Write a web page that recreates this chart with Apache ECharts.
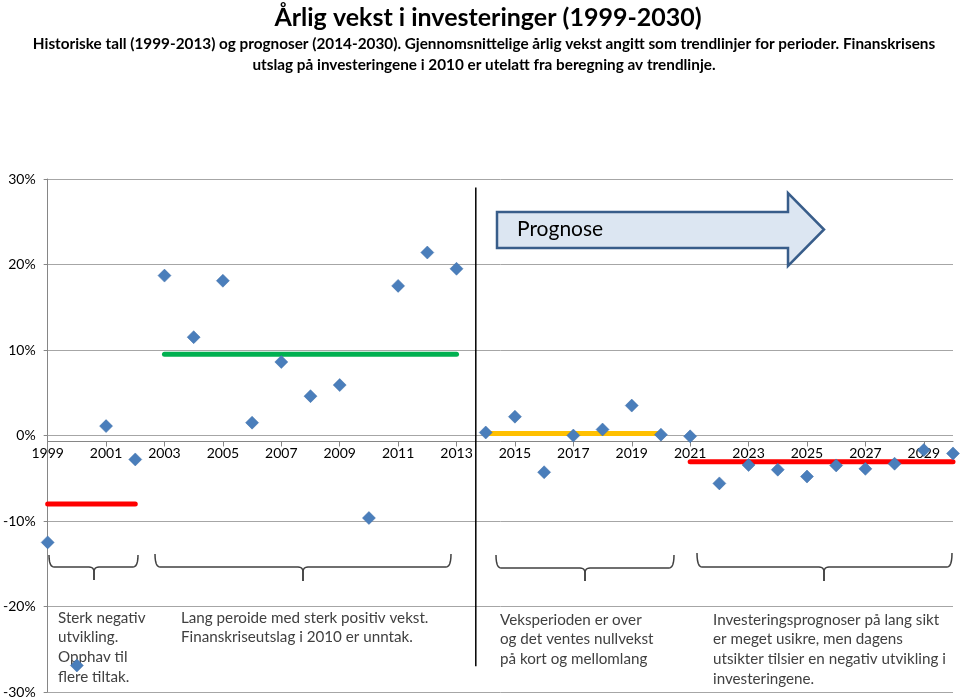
<!DOCTYPE html>
<html>
<head>
<meta charset="utf-8">
<script src="https://cdn.jsdelivr.net/npm/echarts@6/dist/echarts.min.js"></script>
<style>
html,body{margin:0;padding:0;background:#fff;}
#c{width:960px;height:699px;}
</style>
</head>
<body>
<div id="c"></div>
<script>
// ---- data ----
const years = [1999,2000,2001,2002,2003,2004,2005,2006,2007,2008,2009,2010,2011,2012,2013,
               2014,2015,2016,2017,2018,2019,2020,2021,2022,2023,2024,2025,2026,2027,2028,2029,2030];
const growth = [-12.5,-26.9,1.1,-2.8,18.7,11.5,18.1,1.5,8.6,4.6,5.9,-9.65,17.5,21.4,19.5,
                0.35,2.2,-4.3,0.0,0.7,3.5,0.1,-0.1,-5.6,-3.45,-4.0,-4.8,-3.5,-3.9,-3.3,-1.7,-2.1];
const tickYears = [1999,2001,2003,2005,2007,2009,2011,2013,2015,2017,2019,2021,2023,2025,2027,2029];
const trendStart = [1999, 2003, 2014, 2021];
const trendEnd   = [2002, 2013, 2020, 2030];
const trendValue = [-8.0, 9.5, 0.23, -3.07];
const trendColor = ['#ff0000','#00b050','#ffc000','#ff0000'];
const dividerYear = 2013.66;
const dividerRange = [29, -27];

const titleText = 'Årlig vekst i investeringer (1999-2030)';
const subLines = ['Historiske tall (1999-2013) og prognoser (2014-2030). Gjennomsnittelige årlig vekst angitt som trendlinjer for perioder. Finanskrisens',
                  'utslag på investeringene i 2010 er utelatt fra beregning av trendlinje.'];
const notes = [
  'Sterk negativ\nutvikling.\nOpphav til\nflere tiltak.',
  'Lang peroide med sterk positiv vekst.\nFinanskriseutslag i 2010 er unntak.',
  'Veksperioden er over\nog det ventes nullvekst\npå kort og mellomlang',
  'Investeringsprognoser på lang sikt\ner meget usikre, men dagens\nutsikter tilsier en negativ utvikling i\ninvesteringene.'
];

const FONT = 'Lato, "Open Sans", sans-serif';

const series = [];
for (let i = 0; i < trendStart.length; i++) {
  series.push({
    type: 'line', symbol: 'none', silent: true, z: 2,
    data: [[trendStart[i], trendValue[i]], [trendEnd[i], trendValue[i]]],
    lineStyle: { color: trendColor[i], width: 5, cap: 'round' }
  });
}
series.push({
  type: 'line', symbol: 'none', silent: true, z: 2,
  data: [[dividerYear, dividerRange[0]], [dividerYear, dividerRange[1]]],
  lineStyle: { color: '#000', width: 1.5 }
});
series.push({
  type: 'scatter', z: 5, symbol: 'diamond', symbolSize: 13,
  data: years.map((y, i) => [y, growth[i]]),
  itemStyle: { color: '#4a7ebb', borderColor: '#3f6fa8', borderWidth: 0.5, opacity: 1 }
});

function quad(p0, p1, p2, n) {
  const pts = [];
  for (let k = 0; k <= n; k++) {
    const t = k / n, a = (1 - t) * (1 - t), b = 2 * (1 - t) * t, c = t * t;
    pts.push([a * p0[0] + b * p1[0] + c * p2[0], a * p0[1] + b * p1[1] + c * p2[1]]);
  }
  return pts;
}
function bracePts(x1, x2, xm, yT, yH, yB) {
  const r = 5;
  const left = [].concat(
    quad([x1, yT], [x1, yH], [x1 + r, yH], 6),
    quad([xm - r, yH], [xm, yH], [xm, yH + r], 6),
    [[xm, yB]]
  );
  const right = [].concat(
    [[xm, yB]],
    quad([xm, yH + r], [xm, yH], [xm + r, yH], 6),
    quad([x2 - r, yH], [x2, yH], [x2, yT], 6)
  );
  return [left, right];
}
const braces = [
  [49, 138, 94, 555, 567, 580],
  [155, 451, 303, 554, 567, 581],
  [496, 674, 585, 555, 568, 581],
  [697, 952, 824, 553, 567, 581]
];
const notePos = [[58, 608], [181, 608], [500, 610], [713, 610]];

const graphic = [
  { type: 'text', x: 488, y: 18, style: { text: titleText, font: 'bold 25px ' + FONT, fill: '#000', align: 'center', verticalAlign: 'middle' }, z: 10 },
  { type: 'text', x: 484, y: 44, style: { text: subLines[0], font: 'bold 15.3px ' + FONT, fill: '#000', align: 'center', verticalAlign: 'middle' }, z: 10 },
  { type: 'text', x: 484, y: 65, style: { text: subLines[1], font: 'bold 15.3px ' + FONT, fill: '#000', align: 'center', verticalAlign: 'middle' }, z: 10 },
  { type: 'polygon', shape: { points: [[497,212],[788,212],[788,193],[824,229.5],[788,266],[788,248],[497,248]] },
    style: { fill: '#dce6f2', stroke: '#385d8a', lineWidth: 2.5 }, z: 3 },
  { type: 'text', x: 517, y: 229, style: { text: 'Prognose', font: '21px ' + FONT, fill: '#000', verticalAlign: 'middle' }, z: 4 }
];
braces.forEach(b => {
  bracePts.apply(null, b).forEach(pts => graphic.push({ type: 'polyline', shape: { points: pts },
    style: { stroke: '#404040', lineWidth: 1.5, fill: null }, z: 1 }));
});
notes.forEach((t, i) => graphic.push({ type: 'text', x: notePos[i][0], y: notePos[i][1], z: 1,
  style: { text: t, font: '15.2px ' + FONT, fill: '#404040', lineHeight: 19.7, verticalAlign: 'top' } }));

const chart = echarts.init(document.getElementById('c'));
chart.setOption({
  animation: false,
  backgroundColor: '#fff',
  grid: { left: 46, right: 7, top: 179, bottom: 5, containLabel: false },
  xAxis: {
    type: 'value', min: 1999, max: 2030, position: 'bottom', offset: 0,
    axisLine: { show: true, onZero: false, lineStyle: { color: '#868686', width: 1 } },
    axisTick: { show: true, length: 5, customValues: tickYears, lineStyle: { color: '#868686' } },
    axisLabel: { customValues: tickYears, formatter: v => String(v), fontFamily: FONT, fontSize: 14, color: '#000', margin: 5 },
    splitLine: { show: false }
  },
  yAxis: {
    type: 'value', min: -30, max: 30, interval: 10,
    axisLine: { show: true, onZero: false, lineStyle: { color: '#868686' } },
    axisTick: { show: true, length: 4, lineStyle: { color: '#868686' } },
    axisLabel: { formatter: '{value}%', fontFamily: FONT, fontSize: 14, color: '#000', margin: 12 },
    splitLine: { show: true, lineStyle: { color: '#a6a6a6', width: 1 } }
  },
  graphic: graphic,
  series: series
});
// move the x axis (line, ticks, labels) up to the 0% line
const yZero = chart.convertToPixel({ yAxisIndex: 0 }, 0);
const yBottom = chart.convertToPixel({ yAxisIndex: 0 }, -30);
chart.setOption({ xAxis: { offset: yZero - yBottom } });
</script>
</body>
</html>
